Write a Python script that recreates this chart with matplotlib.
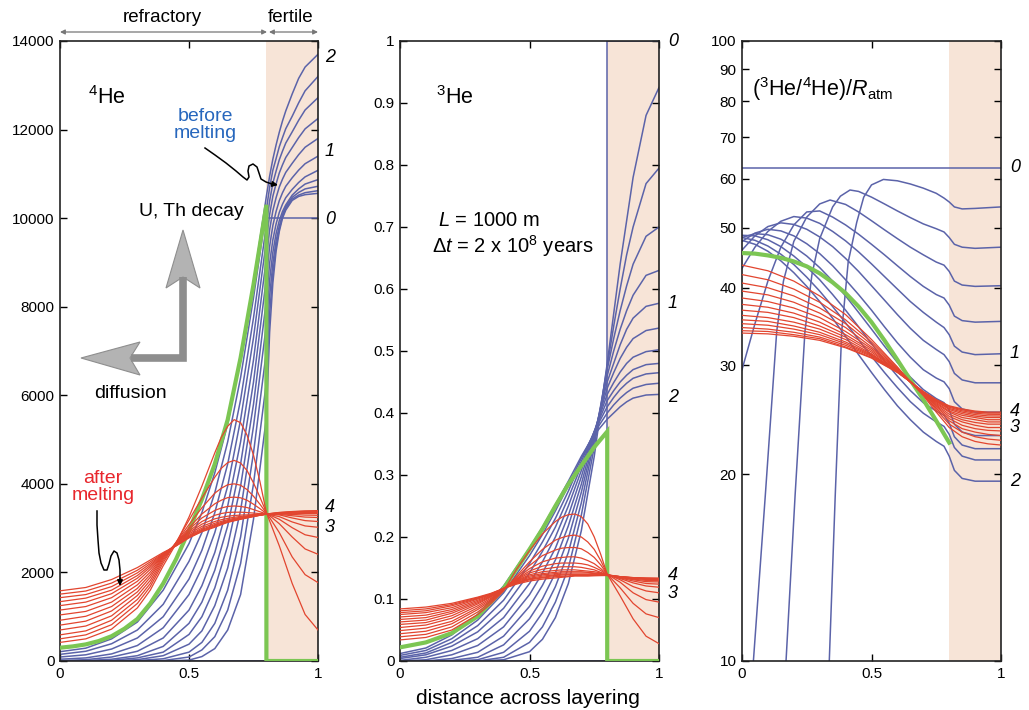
import matplotlib
matplotlib.use("Agg")
import matplotlib.pyplot as plt
from matplotlib.patches import Polygon
from matplotlib.ticker import NullLocator

plt.rcParams['font.family'] = ['Liberation Sans', 'DejaVu Sans']
plt.rcParams['mathtext.fontset'] = 'custom'
plt.rcParams['mathtext.rm'] = 'Liberation Sans'
plt.rcParams['mathtext.it'] = 'Liberation Sans:italic'

# -------------- values --------------------------------------
x_step = [0, 0.8, 0.8, 1.0]

# 4He, before melting (blue), earliest first
x_he4_blue = [0, 0.1, 0.2, 0.3, 0.4, 0.5, 0.55, 0.6, 0.65, 0.7, 0.75, 0.8,
              0.8125, 0.825, 0.8375, 0.85, 0.8625, 0.875, 0.9, 0.925, 0.95, 1.0]
he4_blue = [
    [0, 0, 0, 0, 0, 20, 100, 280, 700, 1500, 3200, 5500, 7423, 8536, 9250, 9700, 10000, 10180, 10400, 10490, 10530, 10560],
    [0, 0, 0, 0, 10, 90, 250, 550, 1150, 2200, 4000, 6300, 7838, 8745, 9363, 9752, 10040, 10220, 10430, 10520, 10575, 10620],
    [0, 0, 0, 10, 50, 200, 420, 850, 1600, 2800, 4700, 7000, 8235, 8979, 9485, 9820, 10080, 10260, 10470, 10580, 10660, 10720],
    [0, 0, 5, 30, 120, 380, 680, 1250, 2100, 3400, 5300, 7600, 8607, 9228, 9650, 9945, 10151, 10299, 10520, 10660, 10770, 10870],
    [0, 0, 15, 70, 200, 600, 1000, 1650, 2600, 3950, 5800, 8150, 8982, 9510, 9867, 10131, 10318, 10462, 10649, 10805, 10932, 11080],
    [0, 10, 40, 120, 330, 850, 1330, 2050, 3050, 4450, 6300, 8650, 9365, 9832, 10149, 10396, 10575, 10719, 10912, 11084, 11229, 11400],
    [10, 30, 90, 220, 520, 1150, 1700, 2450, 3500, 4950, 6800, 9100, 9737, 10169, 10461, 10704, 10882, 11033, 11238, 11433, 11601, 11800],
    [40, 70, 160, 350, 750, 1500, 2100, 2900, 3950, 5450, 7300, 9500, 10083, 10495, 10773, 11021, 11205, 11369, 11594, 11818, 12016, 12250],
    [90, 140, 270, 520, 1000, 1850, 2500, 3350, 4450, 5900, 7750, 9850, 10390, 10791, 11061, 11319, 11515, 11695, 11948, 12209, 12442, 12720],
    [150, 220, 390, 700, 1280, 2250, 2900, 3800, 4950, 6400, 8200, 10200, 10692, 11082, 11343, 11613, 11820, 12019, 12301, 12603, 12875, 13200],
    [210, 290, 500, 880, 1600, 2650, 3350, 4250, 5350, 6850, 8550, 10500, 10948, 11332, 11652, 11940, 12196, 12420, 12804, 13156, 13412, 13700],
]
he4_step = [0, 0, 10000, 10000]
he4_green_x = [0, 0.05, 0.1, 0.15, 0.2, 0.25, 0.3, 0.35, 0.4, 0.45, 0.5, 0.55, 0.6, 0.65, 0.7, 0.75, 0.8, 0.8, 1.0]
he4_green = [300, 330, 375, 450, 560, 730, 950, 1300, 1750, 2300, 2950, 3650, 4450, 5450, 6850, 8500, 10300, 0, 0]

# after melting (red), earliest first
x_red = [0, 0.1, 0.2, 0.3, 0.35, 0.4, 0.45, 0.5, 0.55, 0.6, 0.625, 0.65, 0.675, 0.7, 0.725, 0.75, 0.775, 0.8,
         0.85, 0.9, 0.95, 1.0]
he4_red = [
    [420, 500, 720, 1200, 1600, 2150, 2650, 3250, 3950, 4700, 5050, 5300, 5450, 5380, 5100, 4650, 4050, 3350, 2600, 1750, 1050, 700],
    [500, 590, 820, 1300, 1680, 2220, 2680, 3180, 3680, 4150, 4350, 4480, 4530, 4470, 4300, 4020, 3700, 3350, 2900, 2350, 1950, 1770],
    [590, 680, 920, 1390, 1750, 2270, 2680, 3080, 3460, 3790, 3900, 3980, 4000, 3970, 3870, 3720, 3540, 3340, 3100, 2800, 2530, 2410],
    [700, 790, 1020, 1480, 1820, 2310, 2670, 3010, 3320, 3550, 3630, 3690, 3700, 3685, 3630, 3540, 3440, 3330, 3200, 3010, 2850, 2790],
    [810, 900, 1130, 1560, 1890, 2340, 2660, 2970, 3230, 3400, 3455, 3490, 3500, 3490, 3465, 3420, 3370, 3320, 3260, 3140, 3050, 3020],
    [920, 1010, 1230, 1640, 1950, 2360, 2650, 2930, 3150, 3290, 3330, 3355, 3360, 3360, 3352, 3340, 3330, 3320, 3300, 3230, 3170, 3150],
    [1040, 1120, 1330, 1720, 2010, 2380, 2650, 2900, 3090, 3210, 3245, 3270, 3285, 3295, 3300, 3305, 3310, 3315, 3310, 3280, 3250, 3240],
    [1150, 1230, 1430, 1800, 2070, 2390, 2640, 2870, 3040, 3150, 3190, 3220, 3245, 3265, 3278, 3290, 3302, 3315, 3320, 3310, 3295, 3290],
    [1250, 1330, 1520, 1870, 2120, 2400, 2630, 2840, 3000, 3110, 3152, 3190, 3220, 3245, 3263, 3280, 3298, 3315, 3330, 3335, 3332, 3330],
    [1340, 1420, 1600, 1930, 2160, 2410, 2620, 2820, 2970, 3080, 3127, 3170, 3200, 3230, 3253, 3275, 3295, 3315, 3335, 3345, 3350, 3350],
    [1430, 1500, 1680, 1990, 2200, 2420, 2610, 2800, 2950, 3060, 3107, 3150, 3185, 3215, 3243, 3270, 3293, 3315, 3345, 3360, 3368, 3370],
    [1510, 1580, 1760, 2050, 2240, 2430, 2600, 2790, 2930, 3040, 3092, 3140, 3175, 3205, 3235, 3265, 3292, 3318, 3350, 3370, 3380, 3385],
    [1585, 1660, 1840, 2110, 2280, 2450, 2600, 2780, 2920, 3020, 3077, 3130, 3165, 3200, 3230, 3260, 3290, 3320, 3355, 3375, 3390, 3396],
]

# 3He
x_he3_blue = [0, 0.1, 0.2, 0.3, 0.4, 0.5, 0.55, 0.6, 0.65, 0.7, 0.75, 0.8, 0.825, 0.85, 0.875, 0.9, 0.95, 1.0]
he3_blue = [
    [0, 0, 0, 0, 0.002, 0.015, 0.035, 0.07, 0.125, 0.21, 0.33, 0.48, 0.56, 0.64, 0.71, 0.78, 0.88, 0.925],
    [0, 0, 0, 0, 0.006, 0.03, 0.055, 0.095, 0.15, 0.235, 0.345, 0.475, 0.54, 0.60, 0.655, 0.70, 0.77, 0.795],
    [0, 0, 0, 0.002, 0.014, 0.048, 0.078, 0.12, 0.175, 0.255, 0.355, 0.47, 0.52, 0.565, 0.605, 0.64, 0.685, 0.70],
    [0, 0, 0.001, 0.006, 0.026, 0.068, 0.1, 0.142, 0.198, 0.272, 0.36, 0.46, 0.50, 0.535, 0.565, 0.59, 0.622, 0.63],
    [0, 0, 0.004, 0.014, 0.04, 0.088, 0.122, 0.163, 0.218, 0.285, 0.365, 0.45, 0.48, 0.51, 0.535, 0.553, 0.572, 0.577],
    [0, 0.002, 0.01, 0.025, 0.055, 0.107, 0.142, 0.182, 0.235, 0.297, 0.368, 0.44, 0.465, 0.488, 0.506, 0.52, 0.533, 0.537],
    [0.001, 0.006, 0.017, 0.036, 0.07, 0.125, 0.16, 0.2, 0.25, 0.307, 0.37, 0.43, 0.449, 0.466, 0.48, 0.49, 0.499, 0.502],
    [0.004, 0.01, 0.024, 0.047, 0.085, 0.142, 0.177, 0.216, 0.263, 0.315, 0.37, 0.42, 0.436, 0.45, 0.461, 0.47, 0.478, 0.48],
    [0.006, 0.013, 0.03, 0.057, 0.098, 0.157, 0.192, 0.23, 0.274, 0.322, 0.37, 0.41, 0.425, 0.438, 0.448, 0.456, 0.463, 0.465],
    [0.009, 0.017, 0.036, 0.066, 0.11, 0.17, 0.204, 0.242, 0.283, 0.327, 0.368, 0.40, 0.413, 0.424, 0.433, 0.44, 0.446, 0.448],
    [0.012, 0.021, 0.042, 0.075, 0.121, 0.182, 0.216, 0.252, 0.29, 0.33, 0.365, 0.39, 0.40, 0.41, 0.418, 0.424, 0.429, 0.43],
]
he3_step = [0, 0, 1, 1]
he3_green_x = [0, 0.1, 0.2, 0.3, 0.4, 0.5, 0.55, 0.6, 0.65, 0.7, 0.75, 0.8, 0.8, 1.0]
he3_green = [0.022, 0.03, 0.045, 0.072, 0.117, 0.18, 0.213, 0.25, 0.285, 0.315, 0.345, 0.37, 0, 0]
he3_red = [
    [0.034, 0.038, 0.05, 0.075, 0.092, 0.113, 0.148, 0.178, 0.205, 0.225, 0.232, 0.236, 0.237, 0.233, 0.221, 0.2, 0.172, 0.14, 0.105, 0.068, 0.04, 0.028],
    [0.039, 0.043, 0.055, 0.079, 0.095, 0.114, 0.137, 0.16, 0.18, 0.195, 0.199, 0.202, 0.203, 0.2, 0.192, 0.18, 0.162, 0.14, 0.118, 0.093, 0.076, 0.070],
    [0.044, 0.048, 0.06, 0.083, 0.097, 0.115, 0.135, 0.154, 0.17, 0.179, 0.182, 0.183, 0.183, 0.181, 0.175, 0.167, 0.155, 0.14, 0.127, 0.11, 0.099, 0.095],
    [0.049, 0.053, 0.064, 0.086, 0.099, 0.115, 0.133, 0.149, 0.16, 0.166, 0.167, 0.168, 0.168, 0.166, 0.162, 0.157, 0.149, 0.14, 0.131, 0.12, 0.113, 0.11],
    [0.054, 0.058, 0.069, 0.089, 0.101, 0.116, 0.132, 0.145, 0.153, 0.157, 0.158, 0.158, 0.158, 0.157, 0.155, 0.151, 0.146, 0.139, 0.133, 0.126, 0.121, 0.119],
    [0.059, 0.062, 0.073, 0.092, 0.103, 0.116, 0.131, 0.142, 0.148, 0.151, 0.152, 0.152, 0.152, 0.151, 0.149, 0.147, 0.143, 0.139, 0.134, 0.129, 0.125, 0.124],
    [0.063, 0.066, 0.077, 0.094, 0.104, 0.117, 0.13, 0.139, 0.144, 0.146, 0.147, 0.147, 0.147, 0.146, 0.145, 0.144, 0.142, 0.139, 0.135, 0.131, 0.128, 0.1275],
    [0.067, 0.07, 0.08, 0.096, 0.105, 0.117, 0.129, 0.137, 0.141, 0.143, 0.144, 0.144, 0.144, 0.144, 0.143, 0.142, 0.141, 0.139, 0.135, 0.132, 0.13, 0.1295],
    [0.071, 0.074, 0.083, 0.098, 0.106, 0.117, 0.128, 0.135, 0.139, 0.141, 0.142, 0.142, 0.142, 0.142, 0.142, 0.141, 0.14, 0.139, 0.136, 0.133, 0.1315, 0.131],
    [0.075, 0.078, 0.086, 0.1, 0.107, 0.117, 0.127, 0.133, 0.137, 0.139, 0.14, 0.14, 0.14, 0.14, 0.14, 0.14, 0.1395, 0.139, 0.136, 0.134, 0.1323, 0.132],
    [0.078, 0.081, 0.089, 0.101, 0.108, 0.117, 0.126, 0.132, 0.135, 0.138, 0.1385, 0.139, 0.139, 0.139, 0.139, 0.139, 0.1385, 0.138, 0.136, 0.134, 0.133, 0.1327],
    [0.081, 0.084, 0.091, 0.102, 0.108, 0.117, 0.125, 0.131, 0.134, 0.136, 0.1365, 0.137, 0.138, 0.138, 0.138, 0.138, 0.138, 0.138, 0.136, 0.1345, 0.1335, 0.1332],
    [0.084, 0.087, 0.093, 0.103, 0.109, 0.117, 0.124, 0.129, 0.132, 0.134, 0.135, 0.136, 0.137, 0.137, 0.137, 0.1375, 0.1378, 0.138, 0.136, 0.1345, 0.134, 0.1336],
]

# (3He/4He)/Ratm
ratio_blue_early_x = [
    [0.337, 0.36, 0.385, 0.41, 0.443, 0.47, 0.5, 0.546, 0.6, 0.65, 0.7, 0.75, 0.78, 0.8, 0.82, 0.85, 0.9, 1.0],
    [0.17, 0.205, 0.243, 0.27, 0.3, 0.35, 0.38, 0.417, 0.45, 0.5, 0.55, 0.6, 0.65, 0.7, 0.75, 0.78, 0.8, 0.82, 0.85, 0.9, 1.0],
    [0.044, 0.09, 0.134, 0.16, 0.2, 0.25, 0.3, 0.34, 0.4, 0.45, 0.5, 0.55, 0.6, 0.65, 0.7, 0.75, 0.78, 0.8, 0.82, 0.85, 0.9, 1.0],
]
ratio_blue_early = [
    [10, 18.5, 34, 44, 51, 56, 58.6, 59.8, 59.5, 58.8, 57.9, 56.8, 55.8, 55, 54, 53.6, 53.7, 54],
    [10, 18.5, 34, 42, 48, 54, 56.2, 57.5, 57.2, 56, 54.6, 53.2, 51.9, 50.7, 49.8, 49.2, 48.2, 47, 46.5, 46.3, 46.5],
    [10, 18.5, 34, 41, 47.5, 52, 54.6, 55.4, 54.5, 53, 51.3, 49.6, 48, 46.5, 45.2, 44, 43.5, 42.5, 41, 40.4, 40.2, 40.3],
]
x_ratio = [0, 0.05, 0.1, 0.15, 0.2, 0.25, 0.3, 0.35, 0.4, 0.45, 0.5, 0.55, 0.6, 0.65, 0.7, 0.75, 0.78, 0.8, 0.82, 0.85, 0.9, 1.0]
ratio_blue = [
    [29.5, 35, 41, 46.5, 50.5, 53, 53.2, 52, 50.5, 48.8, 47, 45.2, 43.4, 41.7, 40.2, 39, 38.5, 37.5, 36, 35.4, 35.2, 35.3],
    [43, 46.5, 49.3, 51.2, 52.1, 51.8, 50.8, 49.3, 47.6, 45.7, 43.7, 41.7, 39.8, 38, 36.5, 35.2, 34.5, 33.6, 32.2, 31.5, 31.2, 31.3],
    [46, 48.5, 50.2, 50.9, 50.6, 49.7, 48.3, 46.6, 44.6, 42.5, 40.3, 38.2, 36.2, 34.4, 32.9, 31.8, 31.2, 30.4, 29.1, 28.4, 28.1, 28.1],
    [47.5, 49, 49.7, 49.4, 48.5, 47.1, 45.4, 43.4, 41.2, 39, 36.8, 34.6, 32.6, 30.9, 29.5, 28.6, 28.2, 27.5, 26.2, 25.5, 25.2, 25.2],
    [48.2, 48.9, 48.7, 47.9, 46.6, 45, 43.1, 41, 38.8, 36.5, 34.3, 32.2, 30.3, 28.7, 27.4, 26.5, 26.1, 25.4, 24.1, 23.4, 23.1, 23.1],
    [48.6, 48.5, 47.8, 46.6, 45, 43.2, 41.2, 39, 36.8, 34.6, 32.5, 30.5, 28.8, 27.3, 26.1, 25.3, 24.9, 24.2, 23, 22.3, 22, 22],
    [48.2, 47.7, 46.7, 45.3, 43.6, 41.6, 39.5, 37.3, 35.1, 33, 31, 29.2, 27.6, 26.2, 25.1, 24.3, 23.9, 23.2, 22.1, 21.4, 21.1, 21.1],
    [47.7, 47, 45.8, 44.2, 42.3, 40.2, 38, 35.7, 33.4, 31.2, 29.2, 27.4, 25.8, 24.5, 23.4, 22.6, 22.2, 21.4, 20.3, 19.7, 19.5, 19.5],
]
ratio_step_x = [0, 1.0]
ratio_step = [62.5, 62.5]
ratio_green_x = [0, 0.05, 0.1, 0.15, 0.2, 0.25, 0.3, 0.35, 0.4, 0.45, 0.5, 0.55, 0.6, 0.65, 0.7, 0.75, 0.8]
ratio_green = [45.5, 45.4, 45.1, 44.7, 44.1, 43.3, 42.2, 40.8, 39.2, 37.3, 35.2, 32.9, 30.6, 28.4, 26.4, 24.4, 22.5]
x_ratio_red = [0, 0.1, 0.2, 0.3, 0.4, 0.5, 0.6, 0.65, 0.7, 0.75, 0.8, 0.85, 0.9, 0.95, 1.0]
ratio_red = [
    [43.5, 42.6, 41, 38.8, 36.2, 33, 29.8, 28.2, 26.8, 25.2, 23.8, 23.0, 22.6, 22.4, 22.3],
    [42.0, 41.2, 39.8, 37.9, 35.5, 32.7, 29.7, 28.2, 26.9, 25.4, 24.1, 23.4, 23.0, 22.8, 22.7],
    [40.7, 40.0, 38.8, 37.1, 35.0, 32.4, 29.6, 28.2, 26.9, 25.55, 24.4, 23.7, 23.4, 23.2, 23.1],
    [39.5, 38.95, 37.9, 36.4, 34.5, 32.1, 29.55, 28.2, 27.0, 25.7, 24.6, 24.0, 23.7, 23.55, 23.5],
    [38.5, 38.0, 37.1, 35.8, 34.0, 31.9, 29.5, 28.2, 27.0, 25.8, 24.8, 24.3, 24.0, 23.8, 23.8],
    [37.6, 37.2, 36.4, 35.2, 33.6, 31.7, 29.4, 28.2, 27.05, 25.9, 25.0, 24.5, 24.25, 24.1, 24.1],
    [36.8, 36.5, 35.8, 34.7, 33.3, 31.5, 29.4, 28.2, 27.1, 26.0, 25.2, 24.7, 24.5, 24.3, 24.3],
    [36.1, 35.8, 35.2, 34.3, 33.0, 31.3, 29.35, 28.2, 27.1, 26.1, 25.3, 24.9, 24.7, 24.5, 24.5],
    [35.5, 35.3, 34.7, 33.9, 32.7, 31.2, 29.3, 28.2, 27.1, 26.2, 25.45, 25.06, 24.83, 24.7, 24.7],
    [35.0, 34.8, 34.3, 33.6, 32.5, 31.1, 29.3, 28.2, 27.15, 26.25, 25.55, 25.2, 24.97, 24.85, 24.84],
    [34.5, 34.3, 33.9, 33.3, 32.3, 31.0, 29.25, 28.2, 27.17, 26.3, 25.66, 25.32, 25.1, 25.0, 24.99],
    [34.1, 34.0, 33.6, 33.1, 32.1, 30.87, 29.22, 28.2, 27.19, 26.36, 25.74, 25.42, 25.22, 25.11, 25.11],
    [33.8, 33.7, 33.4, 32.9, 32.0, 30.8, 29.2, 28.2, 27.2, 26.4, 25.8, 25.5, 25.3, 25.2, 25.2],
]
# -------------- end values -----------------------

BLUE = '#5b63a9'
RED = '#e2452f'
GREEN = '#7cc653'
FERTILE = '#f7e4d7'

fig = plt.figure(figsize=(10.29, 7.10), dpi=100)
H = 620 / 710
ax1 = fig.add_axes([60 / 1029, 49 / 710, 258 / 1029, H])
ax2 = fig.add_axes([400 / 1029, 49 / 710, 259 / 1029, H])
ax3 = fig.add_axes([742 / 1029, 49 / 710, 259 / 1029, H])

for ax in (ax1, ax2, ax3):
    ax.axvspan(0.8, 1.0, color=FERTILE, lw=0, zorder=0)
    ax.set_xlim(0, 1)
    ax.set_xticks([0, 0.5, 1])
    ax.set_xticklabels(['0', '0.5', '1'])
    ax.tick_params(direction='in', length=5, width=1, labelsize=11, top=True, right=True, pad=4)
    for s in ax.spines.values():
        s.set_linewidth(1.2)
        s.set_color('#222222')

# panel 1: 4He
ax1.plot(x_step, he4_step, color=BLUE, lw=1.1, zorder=2)
for y in he4_blue:
    ax1.plot(x_he4_blue, y, color=BLUE, lw=1.1, zorder=2)
ax1.plot(he4_green_x, he4_green, color=GREEN, lw=3, zorder=3, solid_joinstyle='miter')
for y in he4_red:
    ax1.plot(x_red, y, color=RED, lw=0.9, zorder=4)
ax1.set_ylim(0, 14000)
ax1.set_yticks(range(0, 14001, 2000))

# panel 2: 3He
ax2.plot(x_step, he3_step, color=BLUE, lw=1.1, zorder=2)
for y in he3_blue:
    ax2.plot(x_he3_blue, y, color=BLUE, lw=1.1, zorder=2)
ax2.plot(he3_green_x, he3_green, color=GREEN, lw=3, zorder=3, solid_joinstyle='miter')
for y in he3_red:
    ax2.plot(x_red, y, color=RED, lw=0.9, zorder=4)
ax2.set_ylim(0, 1)
ax2.set_yticks([i / 10 for i in range(11)])
ax2.set_yticklabels(['0', '0.1', '0.2', '0.3', '0.4', '0.5', '0.6', '0.7', '0.8', '0.9', '1'])

# panel 3: ratio
ax3.set_yscale('log')
ax3.plot(ratio_step_x, ratio_step, color=BLUE, lw=1.1, zorder=2)
for xs, y in zip(ratio_blue_early_x, ratio_blue_early):
    ax3.plot(xs, y, color=BLUE, lw=1.1, zorder=2)
for y in ratio_blue:
    ax3.plot(x_ratio, y, color=BLUE, lw=1.1, zorder=2)
ax3.plot(ratio_green_x, ratio_green, color=GREEN, lw=3, zorder=3)
for y in ratio_red:
    ax3.plot(x_ratio_red, y, color=RED, lw=0.9, zorder=4)
ax3.set_ylim(10, 100)
ticks3 = [10, 20, 30, 40, 50, 60, 70, 80, 90, 100]
ax3.set_yticks(ticks3)
ax3.set_yticklabels([str(t) for t in ticks3])
ax3.yaxis.set_minor_locator(NullLocator())

# overlay in pixel units for annotations
ov = fig.add_axes([0, 0, 1, 1], zorder=10)
ov.set_xlim(0, 1029)
ov.set_ylim(710, 0)
ov.axis('off')

ov.text(162, 17, 'refractory', ha='center', va='center', fontsize=13.5)
ov.text(291, 17, 'fertile', ha='center', va='center', fontsize=13.5)
arr = dict(arrowstyle='<|-|>', color='#777777', lw=0.9, mutation_scale=7, shrinkA=0, shrinkB=0)
ov.annotate('', xy=(60, 32), xytext=(267, 32), arrowprops=arr)
ov.annotate('', xy=(269, 32), xytext=(318, 32), arrowprops=arr)

ov.text(88, 98, r'$^4$He', ha='left', va='center', fontsize=15.5)
ov.text(205, 125, 'before\nmelting', ha='center', va='center', fontsize=14, color='#2767bd', linespacing=0.95)
ov.text(191, 212, 'U, Th decay', ha='center', va='center', fontsize=14)
ov.text(130, 393, 'diffusion', ha='center', va='center', fontsize=14)
ov.text(103, 487, 'after\nmelting', ha='center', va='center', fontsize=14, color='#e8262c', linespacing=0.95)

# gray L-shaped arrows
ov.plot([183, 183, 131], [277, 358, 358], color='#8e8e8e', lw=5.5, solid_joinstyle='miter', solid_capstyle='butt')
ov.add_patch(Polygon([(183, 230), (166, 288), (183, 277), (200, 288)], closed=True,
                     facecolor='#b3b3b3', edgecolor='#8e8e8e', lw=0.8))
ov.add_patch(Polygon([(81, 358), (140, 342), (130, 358), (140, 375)], closed=True,
                     facecolor='#b3b3b3', edgecolor='#8e8e8e', lw=0.8))

# squiggly pointers
tip = dict(arrowstyle='-|>', color='black', lw=1.1, mutation_scale=8, shrinkA=0, shrinkB=0)
sq1 = [(205, 148), (215, 155), (226, 163), (236, 171), (243, 177), (247, 180), (249, 177), (248, 171),
       (249, 166), (253, 164), (257, 167), (259, 173), (261, 179), (266, 182), (272, 184)]
ov.plot([p[0] for p in sq1], [p[1] for p in sq1], color='black', lw=1.1)
ov.annotate('', xy=(278, 185), xytext=sq1[-1], arrowprops=tip)
sq2 = [(97, 511), (97, 525), (98, 540), (99, 553), (101, 563), (104, 570), (107, 570), (109, 564),
       (111, 556), (114, 551), (117, 553), (119, 560), (120, 570), (120, 578)]
ov.plot([p[0] for p in sq2], [p[1] for p in sq2], color='black', lw=1.1)
ov.annotate('', xy=(120, 586), xytext=sq2[-1], arrowprops=tip)

# panel 2 texts
ov.text(436, 98, r'$^3$He', ha='left', va='center', fontsize=15.5)
ov.text(438, 221, r'$L$ = 1000 m', ha='left', va='center', fontsize=14.5)
ov.text(432, 246, r'$\Delta t$ = 2 x 10$^8$ years', ha='left', va='center', fontsize=14.5)

# panel 3 text
ov.text(752, 89, r'($^3$He/$^4$He)/$R_{\rm atm}$', ha='left', va='center', fontsize=15.5)

# curve time labels
lab = dict(ha='left', va='center', fontsize=13, style='italic')
for t, y in [('2', 57), ('1', 151), ('0', 220), ('4', 507), ('3', 528)]:
    ov.text(325, y, t, **lab)
for t, y in [('0', 42), ('1', 303), ('2', 398), ('4', 575), ('3', 593)]:
    ov.text(668, y, t, **lab)
for t, y in [('0', 167), ('1', 353), ('4', 411), ('3', 427), ('2', 482)]:
    ov.text(1010, y, t, **lab)

ov.text(528, 698, 'distance across layering', ha='center', va='center', fontsize=15)

fig.savefig('out.png', dpi=100)
